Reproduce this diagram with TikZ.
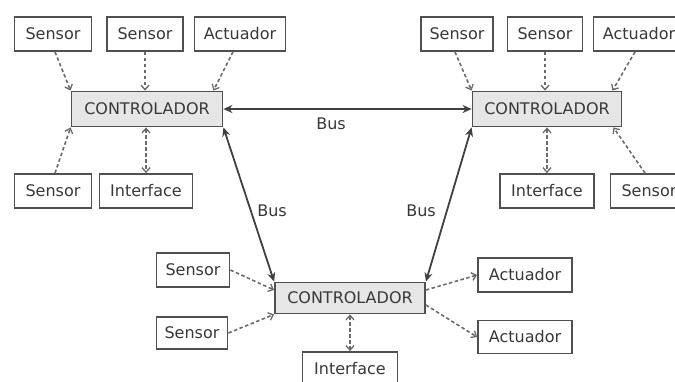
\documentclass[tikz,border=0pt]{standalone}
\usepackage{fontspec}
\setmainfont{DejaVu Sans}
\usetikzlibrary{arrows.meta}
\definecolor{ln}{HTML}{505050}
\definecolor{tx}{HTML}{383838}
\definecolor{cfill}{HTML}{E6E6E6}
\tikzset{
  box/.style={draw=ln, line width=1.8pt, fill=white, text=tx, inner sep=0pt,
    font=\fontsize{16}{18}\selectfont, minimum height=34pt},
  ctl/.style={box, fill=cfill, minimum width=151pt, minimum height=35pt},
  sig/.style={draw=ln!85, line width=1.6pt, dash pattern=on 3.5pt off 2.5pt,
    -{Straight Barb[length=4.5pt,width=8pt,line width=1.3pt]}},
  sigboth/.style={sig, {Straight Barb[length=4.5pt,width=8pt,line width=1.3pt]}-{Straight Barb[length=4.5pt,width=8pt,line width=1.3pt]}},
  bus/.style={draw=ln!80!black, line width=1.8pt, {Stealth[length=9pt,width=8pt]}-{Stealth[length=9pt,width=8pt]}},
  lbl/.style={text=tx, font=\fontsize{16}{18}\selectfont, inner sep=0pt}
}
\begin{document}
\begin{tikzpicture}[x=1pt,y=-1pt]
\clip (0,0) rectangle (675,381);
\fill[white] (0,0) rectangle (675,381);
% top-left group
\node[ctl] (cTL) at (147,109) {CONTROLADOR};
\node[box, minimum width=77pt] (s1) at (53,34) {Sensor};
\node[box, minimum width=76pt] (s2) at (145,34) {Sensor};
\node[box, minimum width=91pt] (a1) at (240,34) {Actuador};
\node[box, minimum width=77pt] (s3) at (53,191) {Sensor};
\node[box, minimum width=93pt] (i1) at (146,191) {Interface};
% top-right group
\node[ctl, minimum width=149pt] (cTR) at (547,109) {CONTROLADOR};
\node[box, minimum width=72pt] (s4) at (457,34) {Sensor};
\node[box, minimum width=75pt] (s5) at (545,34) {Sensor};
\node[box, minimum width=91pt] (a2) at (639,34) {Actuador};
\node[box, minimum width=94pt] (i2) at (547,191) {Interface};
\node[box, minimum width=77pt] (s6) at (649,191) {Sensor};
% bottom group
\node[ctl, minimum width=150pt, minimum height=31pt] (cB) at (350,298) {CONTROLADOR};
\node[box, minimum width=73pt] (s7) at (193,270) {Sensor};
\node[box, minimum width=71pt, minimum height=32pt] (s8) at (192,333) {Sensor};
\node[box, minimum width=94pt] (a3) at (525,275) {Actuador};
\node[box, minimum width=94pt, minimum height=33pt] (a4) at (525,337) {Actuador};
\node[box, minimum width=95pt, minimum height=34pt] (i3) at (350,369) {Interface};
% signals top-left
\draw[sig] ([xshift=2pt]s1.south) -- (cTL.north west);
\draw[sig] (s2.south) -- (s2.south |- cTL.north);
\draw[sig] ([xshift=-7pt]a1.south) -- ([xshift=-10pt]cTL.north east);
\draw[sig] ([xshift=2pt]s3.north) -- (cTL.south west);
\draw[sigboth] (cTL.south -| i1.north) -- (i1.north);
% signals top-right
\draw[sig] ([xshift=-2pt]s4.south) -- (cTR.north west);
\draw[sig] (s5.south) -- (s5.south |- cTR.north);
\draw[sig] ([xshift=-4pt]a2.south) -- ([xshift=-10pt]cTR.north east);
\draw[sig] ([xshift=-4pt]s6.north) -- ([xshift=-9pt]cTR.south east);
\draw[sigboth] (cTR.south -| i2.north) -- (i2.north);
% signals bottom
\draw[sig] (s7.east) -- ([yshift=8pt]cB.west);
\draw[sig] (s8.east) -- (cB.south west);
\draw[sig] ([yshift=8pt]cB.east) -- (a3.west);
\draw[sig] ([yshift=-7pt]cB.east) -- (a4.west);
\draw[sigboth] (cB.south -| i3.north) -- (i3.north);
% buses
\draw[bus] (cTL.east) -- (cTR.west);
\draw[bus] (cTL.south east) -- (cB.north west);
\draw[bus] (cTR.south west) -- (cB.north east);
\node[lbl] (b1) at (331,124) {Bus};
\node[lbl] (b2) at (272,211) {Bus};
\node[lbl] (b3) at (421,211) {Bus};
\end{tikzpicture}
\end{document}
